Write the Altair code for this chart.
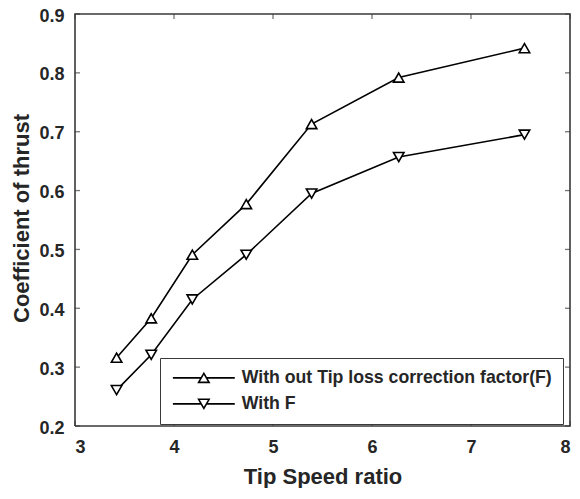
import altair as alt
import pandas as pd

# ---- data ----
tsr = [3.42, 3.77, 4.185, 4.73, 5.39, 6.27, 7.54]
ct_without_f = [0.316, 0.383, 0.491, 0.577, 0.713, 0.792, 0.842]
ct_with_f = [0.261, 0.321, 0.415, 0.491, 0.595, 0.657, 0.695]
series_names = ["With out Tip loss correction factor(F)", "With F"]
x_ticks = [3, 4, 5, 6, 7, 8]
y_ticks = [0.2, 0.3, 0.4, 0.5, 0.6, 0.7, 0.8, 0.9]

rows = []
for x, a, b in zip(tsr, ct_without_f, ct_with_f):
    rows.append({"tsr": x, "ct": a, "series": series_names[0]})
    rows.append({"tsr": x, "ct": b, "series": series_names[1]})
df = pd.DataFrame(rows)
xt_df = pd.DataFrame({"tsr": x_ticks})
yt_df = pd.DataFrame({"ct": y_ticks})
x_lo, x_hi, y_lo, y_hi = x_ticks[0], x_ticks[-1], y_ticks[0], y_ticks[-1]
frame_df = pd.DataFrame({
    "tsr": [x_lo, x_hi, x_hi, x_lo, x_lo],
    "ct": [y_lo, y_lo, y_hi, y_hi, y_lo],
    "k": [0, 1, 2, 3, 4],
})

W, H = 495, 412
FONT = "Liberation Sans"
TXT = "#262626"
AX = "#3a3a3a"
TICK = 5

xscale = alt.Scale(domain=[x_lo, x_hi], nice=False, zero=False)
yscale = alt.Scale(domain=[y_lo, y_hi], nice=False, zero=False)

x_main = alt.Axis(orient="bottom", values=x_ticks, format="d", title="Tip Speed ratio",
                  ticks=False, domain=False, grid=False, labelPadding=12, zindex=1,
                  labelFont=FONT, labelFontSize=18, labelFontWeight="bold", labelColor=TXT,
                  titleFont=FONT, titleFontSize=22, titleFontWeight="bold", titleColor=TXT,
                  titleBaseline="alphabetic", titleY=57)
y_main = alt.Axis(orient="left", values=y_ticks, format=".1f", title="Coefficient of thrust",
                  ticks=False, domain=False, grid=False, labelPadding=11, zindex=1,
                  labelFont=FONT, labelFontSize=18, labelFontWeight="bold", labelColor=TXT,
                  labelOffset=2, titleFont=FONT, titleFontSize=22, titleFontWeight="bold",
                  titleColor=TXT, titleBaseline="middle", titleX=-54, titleY=204)

base = alt.Chart(df)

lines = base.mark_line(color="black", strokeWidth=1.6).encode(
    x=alt.X("tsr:Q", scale=xscale, axis=x_main),
    y=alt.Y("ct:Q", scale=yscale, axis=y_main),
    detail="series:N",
)

# plot frame drawn as a closed outline through the axis-range corners
frame = alt.Chart(frame_df).mark_line(color=AX, strokeWidth=1.6).encode(
    x=alt.X("tsr:Q", scale=xscale, axis=None),
    y=alt.Y("ct:Q", scale=yscale, axis=None),
    order="k:Q",
)

# inward tick marks on all four sides
tick_bottom = alt.Chart(xt_df).mark_tick(orient="vertical", size=TICK, thickness=1.3,
                                         color=AX).encode(
    x=alt.X("tsr:Q", scale=xscale, axis=None), y=alt.value(H - TICK / 2))
tick_top = alt.Chart(xt_df).mark_tick(orient="vertical", size=TICK, thickness=1.3,
                                      color=AX).encode(
    x=alt.X("tsr:Q", scale=xscale, axis=None), y=alt.value(TICK / 2))
tick_left = alt.Chart(yt_df).mark_tick(orient="horizontal", size=TICK, thickness=1.3,
                                       color=AX).encode(
    y=alt.Y("ct:Q", scale=yscale, axis=None), x=alt.value(TICK / 2))
tick_right = alt.Chart(yt_df).mark_tick(orient="horizontal", size=TICK, thickness=1.3,
                                        color=AX).encode(
    y=alt.Y("ct:Q", scale=yscale, axis=None), x=alt.value(W - TICK / 2))

pts_up = base.transform_filter(alt.datum.series == series_names[0]).mark_point(
    shape="triangle-up", filled=True, fill="white", stroke="black",
    strokeWidth=1.6, size=110, opacity=1
).encode(
    x=alt.X("tsr:Q", scale=xscale, axis=None),
    y=alt.Y("ct:Q", scale=yscale, axis=None),
)

pts_down = base.transform_filter(alt.datum.series == series_names[1]).mark_point(
    shape="triangle-down", filled=True, fill="white", stroke="black",
    strokeWidth=1.6, size=110, opacity=1
).encode(
    x=alt.X("tsr:Q", scale=xscale, axis=None),
    y=alt.Y("ct:Q", scale=yscale, axis=None),
)

line_seg = "M-5.9,0L-0.5,0M0.5,0L5.9,0"
sym_up = line_seg + "M0,-0.866L-1,0.866L1,0.866Z"
sym_down = line_seg + "M0,0.866L-1,-0.866L1,-0.866Z"

# legend-only layer: no rows survive the filter, the explicit domain builds the legend
legend_layer = base.transform_filter("false").mark_point(
    filled=False, color="black", strokeWidth=1.6, size=110, opacity=1
).encode(
    x=alt.X("tsr:Q", scale=xscale, axis=None),
    y=alt.Y("ct:Q", scale=yscale, axis=None),
    shape=alt.Shape(
        "series:N",
        scale=alt.Scale(domain=series_names, range=[sym_up, sym_down]),
        legend=alt.Legend(
            title=None, orient="none", legendX=85, legendY=344,
            symbolSize=110, symbolStrokeWidth=1.6, symbolStrokeColor="black",
            symbolOpacity=1, symbolOffset=24,
            labelOffset=29, labelFont=FONT, labelFontSize=17.7,
            labelFontWeight="bold", labelColor=TXT, padding=11, rowPadding=7,
            strokeColor=AX, fillColor="white", labelLimit=0,
        ),
    ),
)

chart = alt.layer(
    lines, frame, tick_bottom, tick_top, tick_left, tick_right, pts_up, pts_down,
    legend_layer,
).resolve_axis(
    x="independent", y="independent"
).properties(
    width=W, height=H,
    autosize=alt.AutoSizeParams(type="none"),
    padding={"left": 67, "top": 6, "right": 1, "bottom": 62},
    background="white",
).configure_view(strokeWidth=0)

chart.save("out.html", embed_options={"renderer": "svg", "actions": False})
